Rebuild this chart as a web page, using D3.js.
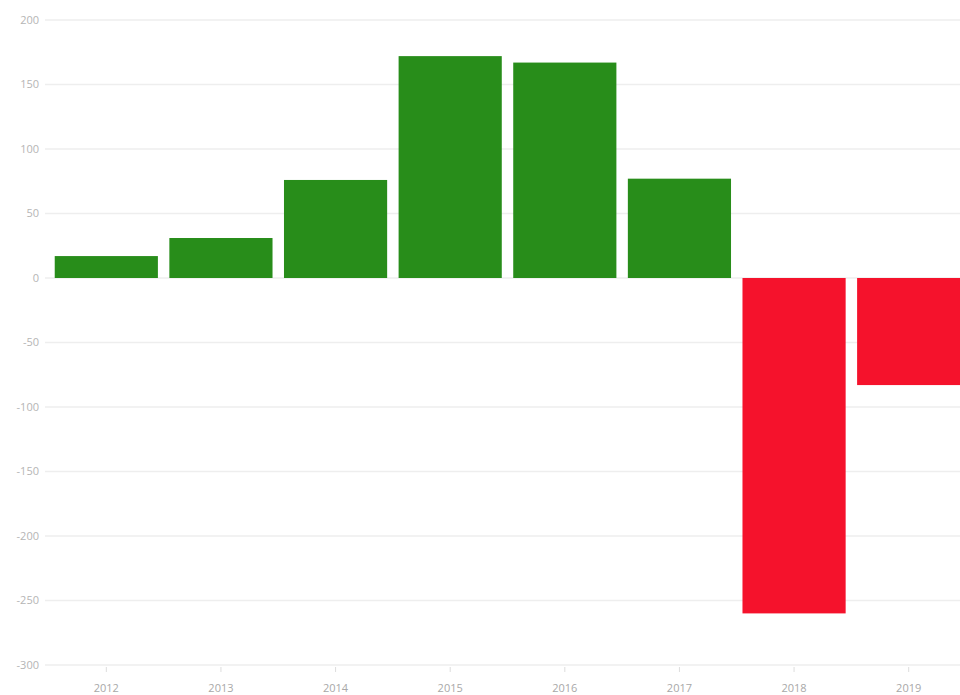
<!DOCTYPE html>
<html>
<head>
<meta charset="utf-8">
<script src="https://cdn.jsdelivr.net/npm/d3@7"></script>
<style>
  html, body { margin: 0; padding: 0; background: #fff; }
  svg { display: block; }
  text { font-family: "Open Sans", "Noto Sans", sans-serif; }
</style>
</head>
<body>
<svg id="chart" width="960" height="695"></svg>
<script>
const years = ["2012", "2013", "2014", "2015", "2016", "2017", "2018", "2019"];
const values = [17, 31, 76, 172, 167, 77, -260, -83];
const yTicks = [200, 150, 100, 50, 0, -50, -100, -150, -200, -250, -300];

const svg = d3.select("#chart");
const W = 960, H = 695;

const x = d3.scaleBand().domain(years).range([49, 966]).paddingInner(0.1).paddingOuter(0.05);
const y = d3.scaleLinear().domain([-300, 200]).range([665, 20]);

// gridlines
svg.append("g").selectAll("line").data(yTicks).join("line")
  .attr("x1", 45).attr("x2", W)
  .attr("y1", d => y(d)).attr("y2", d => y(d))
  .attr("stroke", "#eeeeee").attr("stroke-width", 1.5);

// y labels
svg.append("g").selectAll("text").data(yTicks).join("text")
  .attr("x", 39).attr("y", d => y(d)).attr("dy", "0.35em")
  .attr("text-anchor", "end").attr("font-size", 11).attr("fill", "#b5b5b5")
  .text(d => d);

// bars
svg.append("g").selectAll("rect").data(years).join("rect")
  .attr("x", d => x(d))
  .attr("width", x.bandwidth())
  .attr("y", (d, i) => y(Math.max(0, values[i])))
  .attr("height", (d, i) => Math.abs(y(values[i]) - y(0)))
  .attr("fill", (d, i) => values[i] >= 0 ? "#288d1a" : "#f5122c");

// x axis ticks
const xg = svg.append("g");
xg.selectAll("line").data(years).join("line")
  .attr("x1", d => x(d) + x.bandwidth() / 2).attr("x2", d => x(d) + x.bandwidth() / 2)
  .attr("y1", y(-300) + 2).attr("y2", y(-300) + 7)
  .attr("stroke", "#dddddd").attr("stroke-width", 1);
xg.selectAll("text").data(years).join("text")
  .attr("x", d => x(d) + x.bandwidth() / 2).attr("y", 688).attr("dy", "0.35em")
  .attr("text-anchor", "middle").attr("font-size", 11).attr("fill", "#a8a8a8")
  .text(d => d);
</script>
</body>
</html>
